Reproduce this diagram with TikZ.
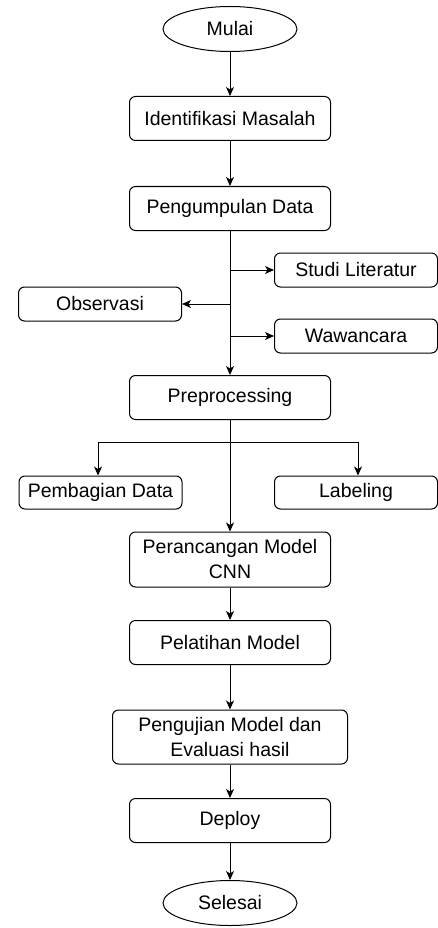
\documentclass[tikz,border=0pt]{standalone}
\usepackage{fontspec}
\setmainfont{Liberation Sans}
\usetikzlibrary{arrows.meta,shapes.geometric}

\begin{document}
\begin{tikzpicture}[x=1pt,y=-1pt,line width=1pt,
    every node/.style={font=\fontsize{19.5}{25}\selectfont,inner sep=0pt,align=center},
    box/.style={draw,rounded corners=6pt,minimum width=201pt,minimum height=44pt},
    side/.style={draw,rounded corners=6pt,minimum width=163pt,minimum height=34pt},
    term/.style={draw,ellipse,minimum width=134pt,minimum height=45pt}]
    \useasboundingbox (0,0) rectangle (438,928);

    \node[term] (1) at (230,29) {Mulai};
    \node[box] (2) at (230,118.5) {Identifikasi Masalah};
    \node[box] (3) at (230,208.5) {Pengumpulan Data};
    \node[side] (4) at (356,270) {Studi Literatur};
    \node[side] (5) at (100,304) {Observasi};
    \node[side] (6) at (356,336) {Wawancara};
    \node[box] (7) at (230,397.5) {Preprocessing};
    \node[side,minimum height=33pt] (8) at (100.5,492.5) {Pembagian Data};
    \node[side,minimum height=33pt] (9) at (356,492.5) {Labeling};
    \node[box,minimum height=55pt] (10) at (230,559.5) {Perancangan Model\\CNN};
    \node[box] (11) at (230,642.5) {Pelatihan Model};
    \node[box,minimum width=235pt,minimum height=54pt] (12) at (230,737) {Pengujian Model dan\\Evaluasi hasil};
    \node[box] (13) at (230,820.5) {Deploy};
    \node[term] (14) at (230,903) {Selesai};

    \coordinate (a1) at (230,270);
    \coordinate (a2) at (230,304);
    \coordinate (a3) at (230,336);
    \coordinate (b1) at (98,442);
    \coordinate (b2) at (358,442);

    \draw (b1) -- (b2);

    \path[-{Stealth[length=9pt,width=8pt,inset=2.5pt]},black]
    (1) edge (2)
    (2) edge (3)
    (3) edge (7)
    (a1) edge (4)
    (a2) edge (5)
    (a3) edge (6)
    (7) edge (10)
    (b1) edge (b1 |- 8.north)
    (b2) edge (b2 |- 9.north)
    (10) edge (11)
    (11) edge (12)
    (12) edge (13)
    (13) edge (14);
\end{tikzpicture}
\end{document}
